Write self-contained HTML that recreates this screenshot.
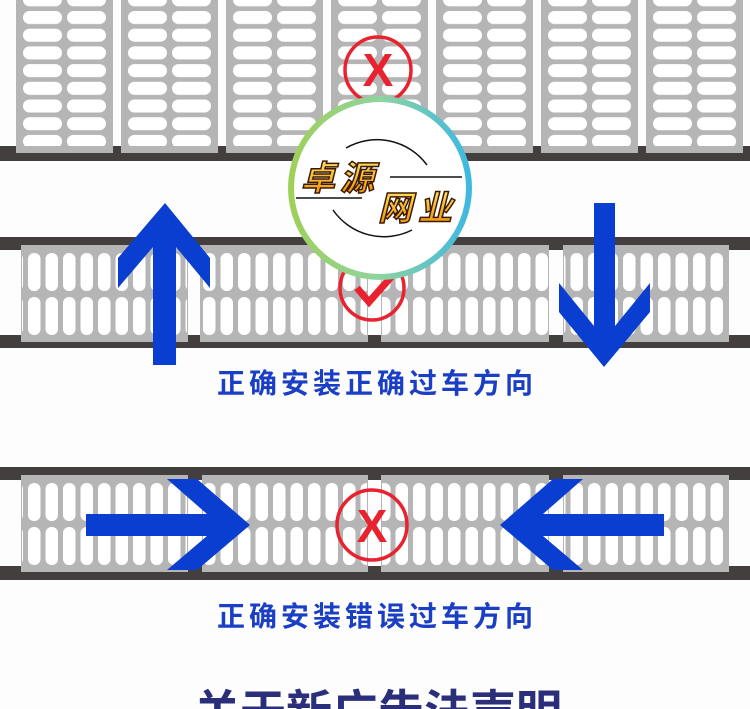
<!DOCTYPE html>
<html><head><meta charset="utf-8"><style>
html,body{margin:0;padding:0;background:#fff;}
svg{display:block}
</style></head><body>
<svg width="750" height="709" viewBox="0 0 750 709" xmlns="http://www.w3.org/2000/svg">
<defs>
<pattern id="ph" patternUnits="userSpaceOnUse" x="16" y="11" width="105" height="17.7">
<rect x="7" y="0" width="39" height="13" rx="6.5" fill="#fff"/>
<rect x="51" y="0" width="39" height="13" rx="6.5" fill="#fff"/>
</pattern>
<pattern id="pv" patternUnits="userSpaceOnUse" x="28" y="0" width="17.5" height="800">
<rect x="0" y="253" width="12.5" height="38" rx="6" fill="#fff"/>
<rect x="0" y="297" width="12.5" height="38" rx="6" fill="#fff"/>
<rect x="0" y="483" width="12.5" height="38" rx="6" fill="#fff"/>
<rect x="0" y="527" width="12.5" height="38" rx="6" fill="#fff"/>
</pattern>
<linearGradient id="rg" x1="0" y1="0" x2="1" y2="0">
<stop offset="0" stop-color="#9fd05a"/><stop offset="0.5" stop-color="#8fd4a0"/><stop offset="1" stop-color="#3fb8e0"/>
</linearGradient>
<linearGradient id="gold" x1="0" y1="0" x2="0" y2="1">
<stop offset="0" stop-color="#ffe066"/><stop offset="1" stop-color="#f08a00"/>
</linearGradient>
</defs>
<rect width="750" height="709" fill="#fdfdfd"/>
<rect x="0" y="146" width="750" height="15" fill="#433f3f"/>
<g fill="#b5b5b5">
<rect x="16" y="0" width="97" height="153"/><rect x="121" y="0" width="97" height="153"/><rect x="226" y="0" width="97" height="153"/><rect x="331" y="0" width="97" height="153"/><rect x="436" y="0" width="97" height="153"/><rect x="541" y="0" width="97" height="153"/><rect x="646" y="0" width="97" height="153"/>
</g>
<g fill="url(#ph)">
<rect x="16" y="0" width="97" height="146"/><rect x="121" y="0" width="97" height="146"/><rect x="226" y="0" width="97" height="146"/><rect x="331" y="0" width="97" height="146"/><rect x="436" y="0" width="97" height="146"/><rect x="541" y="0" width="97" height="146"/><rect x="646" y="0" width="97" height="146"/>
</g>
<rect x="0" y="237" width="750" height="13" fill="#433f3f"/>
<rect x="0" y="335" width="750" height="13" fill="#433f3f"/>
<g fill="#b5b5b5">
<rect x="21" y="245" width="167" height="97"/><rect x="200" y="245" width="168" height="97"/><rect x="381" y="245" width="168" height="97"/><rect x="563" y="245" width="166" height="97"/>
</g>
<g fill="url(#pv)">
<rect x="22" y="250" width="165" height="88"/><rect x="201" y="250" width="166" height="88"/><rect x="382" y="250" width="166" height="88"/><rect x="564" y="250" width="164" height="88"/>
</g>
<rect x="0" y="467" width="750" height="13" fill="#433f3f"/>
<rect x="0" y="566" width="750" height="14" fill="#433f3f"/>
<g fill="#b5b5b5">
<rect x="21" y="475" width="167" height="97"/><rect x="202" y="475" width="166" height="97"/><rect x="381" y="475" width="168" height="97"/><rect x="563" y="475" width="166" height="97"/>
</g>
<g fill="url(#pv)">
<rect x="22" y="480" width="165" height="88"/><rect x="203" y="480" width="164" height="88"/><rect x="382" y="480" width="166" height="88"/><rect x="564" y="480" width="164" height="88"/>
</g>
<g fill="#0a3ed0">
<polygon points="165,203 210,258 210,288 176,247 176,365 153,365 153,247 118,288 118,258"/>
<polygon points="594,203 615,203 615,326 650,283 650,312 604,367 559,312 559,283 594,326"/>
<polygon points="86,514 207,514 167,479 197,479 250,525 197,570 167,570 207,536 86,536"/>
<polygon points="664,514 543,514 583,479 553,479 500,525 553,570 583,570 543,536 664,536"/>
</g>
<g fill="none" stroke="#e8222e" stroke-width="3.5">
<circle cx="378" cy="70" r="33"/>
<circle cx="372" cy="288" r="32"/>
<circle cx="372" cy="525" r="35"/>
</g>
<g font-family="Liberation Sans, sans-serif" font-weight="bold" fill="#e8222e" text-anchor="middle">
<text x="378" y="86" font-size="46">X</text>
<text x="372" y="542" font-size="46">X</text>
</g>
<polyline points="357,288 369,302 392,276" fill="none" stroke="#e8222e" stroke-width="7"/>
<circle cx="380" cy="188" r="89" fill="#fff" stroke="url(#rg)" stroke-width="6"/>
<g fill="none" stroke="#111" stroke-width="1.5">
<path d="M346,148 A62,62 0 0 1 427,165"/>
<path d="M333,210 A62,62 0 0 0 412,230"/>
<line x1="390" y1="177" x2="462" y2="177"/>
<line x1="296" y1="198" x2="362" y2="198"/>
</g>
<g font-family="Liberation Sans, 'Noto Sans CJK SC', sans-serif" font-weight="bold" font-size="34" fill="url(#gold)" stroke="#3a1a00" stroke-width="1.5" font-style="italic">
<text x="301" y="190">卓</text><text x="340" y="190">源</text>
<text x="378" y="220">网</text><text x="418" y="220">业</text>
</g>
<g font-family="Liberation Sans, 'Noto Sans CJK SC', sans-serif" font-weight="bold" font-size="28" fill="#1a3fc4" text-anchor="middle" letter-spacing="4">
<text x="377" y="393">正确安装正确过车方向</text>
<text x="377" y="626">正确安装错误过车方向</text>
</g>
<text x="378" y="728" text-anchor="middle" font-family="Liberation Sans, 'Noto Sans CJK SC', sans-serif" font-weight="bold" font-size="46" fill="#2b2f7a">关于新广告法声明</text>
</svg>
</body></html>
